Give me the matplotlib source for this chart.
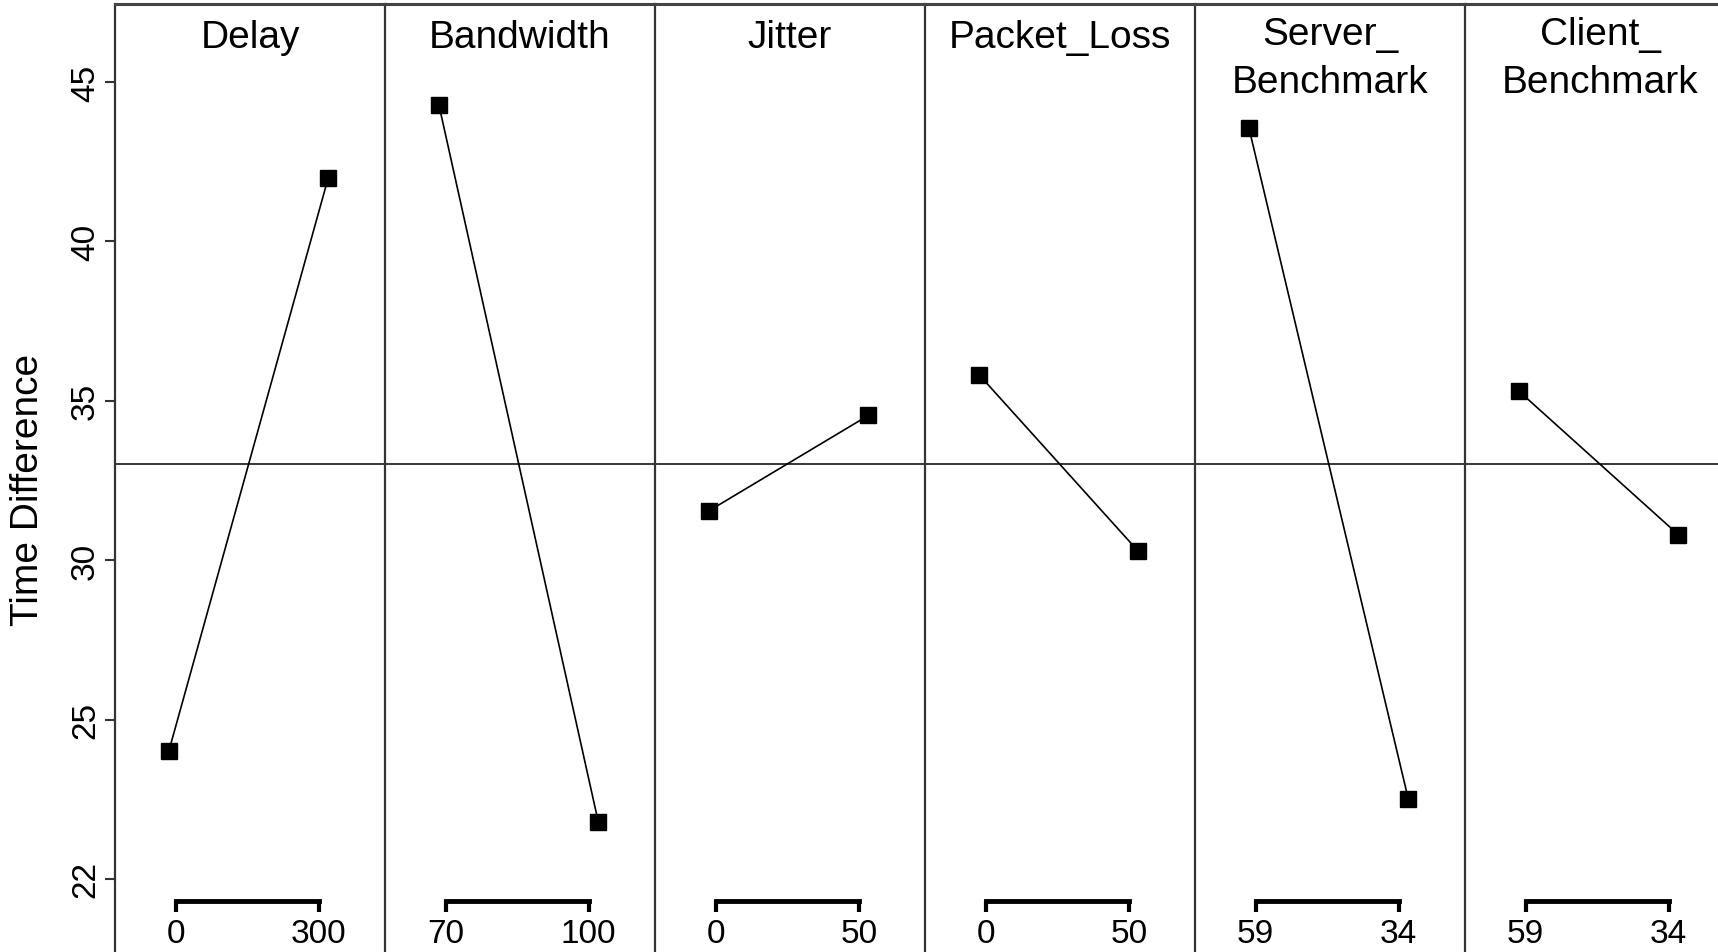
import matplotlib.pyplot as plt

# main effects data
factors = ['Delay', 'Bandwidth', 'Jitter', 'Packet_Loss',
           'Server_\nBenchmark', 'Client_\nBenchmark']
levels = [['0', '300'], ['70', '100'], ['0', '50'], ['0', '50'],
          ['59', '34'], ['59', '34']]
level_means = [[24.03, 42.00], [44.27, 21.79], [31.55, 34.54],
               [35.82, 30.28], [43.55, 22.51], [35.30, 30.80]]
grand_mean = 33.03

y_ticks = [20, 25, 30, 35, 40, 45]
y_tick_labels = ['22', '25', '30', '35', '40', '45']

plt.rcParams['font.family'] = ['Liberation Sans', 'DejaVu Sans']

W, H = 1718, 953
fig = plt.figure(figsize=(W / 100, H / 100), dpi=100)

# panel geometry in pixels
left0 = 115
pw = 270
top_px = 5
bot_px = 963
px_per_unit = (880 - 83) / 25.0
y_top = 45 + (83 - top_px) / px_per_unit
y_bot = 20 - (bot_px - 880) / px_per_unit

bracket_frac = (bot_px - 902) / float(bot_px - top_px)
bracket_ends = [0.042, 0.94]

for i, (name, lv, mv) in enumerate(zip(factors, levels, level_means)):
    ax = fig.add_axes([(left0 + i * pw) / W, 1 - bot_px / H,
                       pw / W, (bot_px - top_px) / H])
    ax.set_xlim(-0.339, 1.356)
    ax.set_ylim(y_bot, y_top)

    ax.axhline(grand_mean, color='black', lw=1.1, zorder=1)
    ax.plot([0, 1], mv, color='black', lw=1.2, marker='s', ms=12,
            zorder=3)

    # single-line titles sit a little lower than the two-line ones
    ty = 0.984 if '\n' not in name else 0.987
    ax.text(0.5, ty, name, transform=ax.transAxes, ha='center',
            va='top', fontsize=28, linespacing=1.4)

    # spines: left = divider, bottom = level bracket
    ax.spines['right'].set_visible(False)
    ax.spines['left'].set_linewidth(1.6)
    ax.spines['left'].set_color('#333333')
    ax.spines['top'].set_linewidth(2.2)
    ax.spines['top'].set_color('#444444')
    ax.spines['bottom'].set_position(('axes', bracket_frac))
    ax.spines['bottom'].set_bounds(*bracket_ends)
    ax.spines['bottom'].set_linewidth(3.5)
    ax.set_xticks(bracket_ends, lv)
    ax.tick_params(axis='x', direction='out', length=8, width=3,
                   labelsize=24, pad=4)

    if i == 0:
        ax.set_yticks(y_ticks, y_tick_labels, rotation=90, va='center')
        ax.tick_params(axis='y', direction='out', length=7, width=1.5,
                       labelsize=24, pad=3, color='#333333')
    else:
        ax.tick_params(axis='y', left=False, labelleft=False)

fig.text(28 / W, 1 - 490 / H, 'Time Difference', rotation=90,
         ha='center', va='center', fontsize=28)

fig.savefig('out.png', dpi=100)
